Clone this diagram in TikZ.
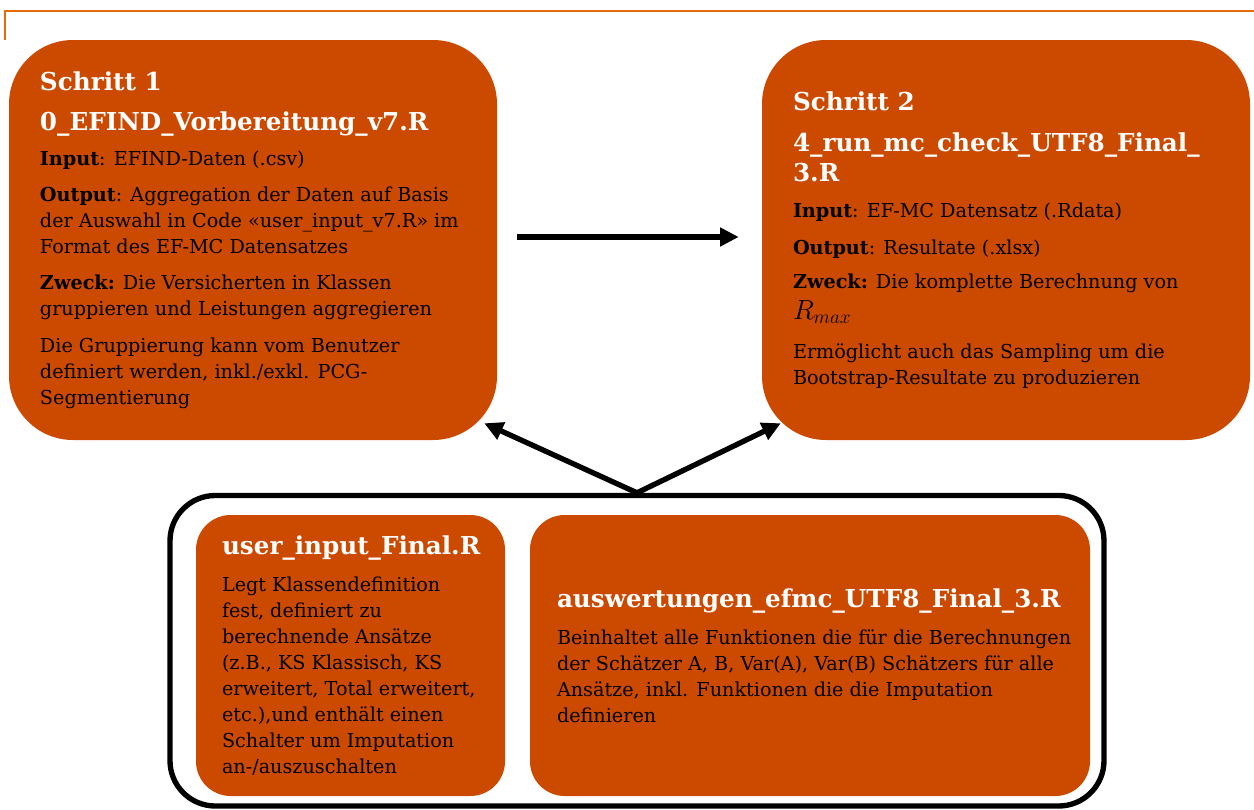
\documentclass[tikz,border=0pt]{standalone}
\usepackage{fontspec}
\setmainfont{DejaVu Serif}
\usepackage{xcolor}
\usetikzlibrary{arrows.meta,positioning}
\definecolor{stepfill}{RGB}{204,74,0}
\definecolor{edgeorange}{RGB}{228,108,10}
\newcommand{\boxhead}[1]{{\color{white}\bfseries\fontsize{18.5}{19.5}\selectfont #1}}

\begin{document}
\begin{tikzpicture}[x=0.75pt,y=-0.75pt,
  stepbox/.style={fill=stepfill,rounded corners=48pt,minimum width=366pt,minimum height=300pt},
  filebox/.style={fill=stepfill,rounded corners=26pt,minimum height=210.75pt},
  boxtext/.style={align=left,inner sep=0pt,anchor=west,font=\fontsize{14.4}{19.5}\selectfont},
  arrowline/.style={line width=4pt,-{Triangle[length=14pt,width=13.5pt]}}]
  \useasboundingbox (0,0) rectangle (1254,810);
  % orange rule along the top
  \draw[edgeorange,line width=1pt] (5,40) -- (5,11) -- (1254,11);
  % frame round the two helper files
  \node[draw,line width=4pt,rounded corners=34pt,minimum width=700.5pt,minimum height=232.9pt] (frame) at (637,650.75) {};
  % the two steps
  \node[stepbox] (step1) at (253,240) {};
  \node[stepbox] (step2) at (1006,240) {};
  \node[boxtext] (step1text) at ([xshift=23.25pt]step1.west) {%
    \boxhead{Schritt 1}\\[10.8pt]
    \boxhead{0\_EFIND\_Vorbereitung\_v7.R}\\[6.75pt]
    \textbf{Input}: EFIND-Daten (.csv)\\[7.75pt]
    \textbf{Output}: Aggregation der Daten auf Basis\\
    der Auswahl in Code «user\_input\_v7.R» im\\
    Format des EF-MC Datensatzes\\[7.5pt]
    \textbf{Zweck:} Die Versicherten in Klassen\\
    gruppieren und Leistungen aggregieren\\[8pt]
    Die Gruppierung kann vom Benutzer\\
    definiert werden, inkl./exkl. PCG-\\
    Segmentierung};
  \node[boxtext] (step2text) at ([xshift=23.25pt]step2.west) {%
    \boxhead{Schritt 2}\\[11pt]
    \boxhead{4\_run\_mc\_check\_UTF8\_Final\_}\\[3pt]
    \boxhead{3.R}\\[7.5pt]
    \textbf{Input}: EF-MC Datensatz (.Rdata)\\[8pt]
    \textbf{Output}: Resultate (.xlsx)\\[6pt]
    \textbf{Zweck:} Die komplette Berechnung von\\[4.25pt]
    {\fontsize{20.5}{19.5}\selectfont$R_{max}$}\\[9.25pt]
    Ermöglicht auch das Sampling um die\\
    Bootstrap-Resultate zu produzieren};
  % helper files inside the frame
  \node[filebox,minimum width=231.75pt] (userinput) at (350.5,655.5) {};
  \node[filebox,minimum width=420pt] (auswertung) at (810,655.5) {};
  \node[boxtext] (userinputtext) at ([xshift=19.5pt]userinput.west) {%
    \boxhead{user\_input\_Final.R}\\[8pt]
    Legt Klassendefinition\\
    fest, definiert zu\\
    berechnende Ansätze\\
    (z.B., KS Klassisch, KS\\
    erweitert, Total erweitert,\\
    etc.),und enthält einen\\
    Schalter um Imputation\\
    an-/auszuschalten};
  \node[boxtext] (auswertungtext) at ([xshift=20.25pt]auswertung.west) {%
    \boxhead{auswertungen\_efmc\_UTF8\_Final\_3.R}\\[7.9pt]
    Beinhaltet alle Funktionen die für die Berechnungen\\
    der Schätzer A, B, Var(A), Var(B) Schätzers für alle\\
    Ansätze, inkl. Funktionen die die Imputation\\
    definieren};
  % step 1 feeds step 2, the frame feeds both
  \draw[arrowline,shorten <=15pt,shorten >=17.25pt] ([yshift=2.25pt]step1.east) -- ([yshift=2.25pt]step2.west);
  \draw[arrowline] (frame.north) -- ([shift={(-13,-17)}]step1.south east);
  \draw[arrowline] (frame.north) -- ([shift={(19,-17)}]step2.south west);
\end{tikzpicture}
\end{document}
